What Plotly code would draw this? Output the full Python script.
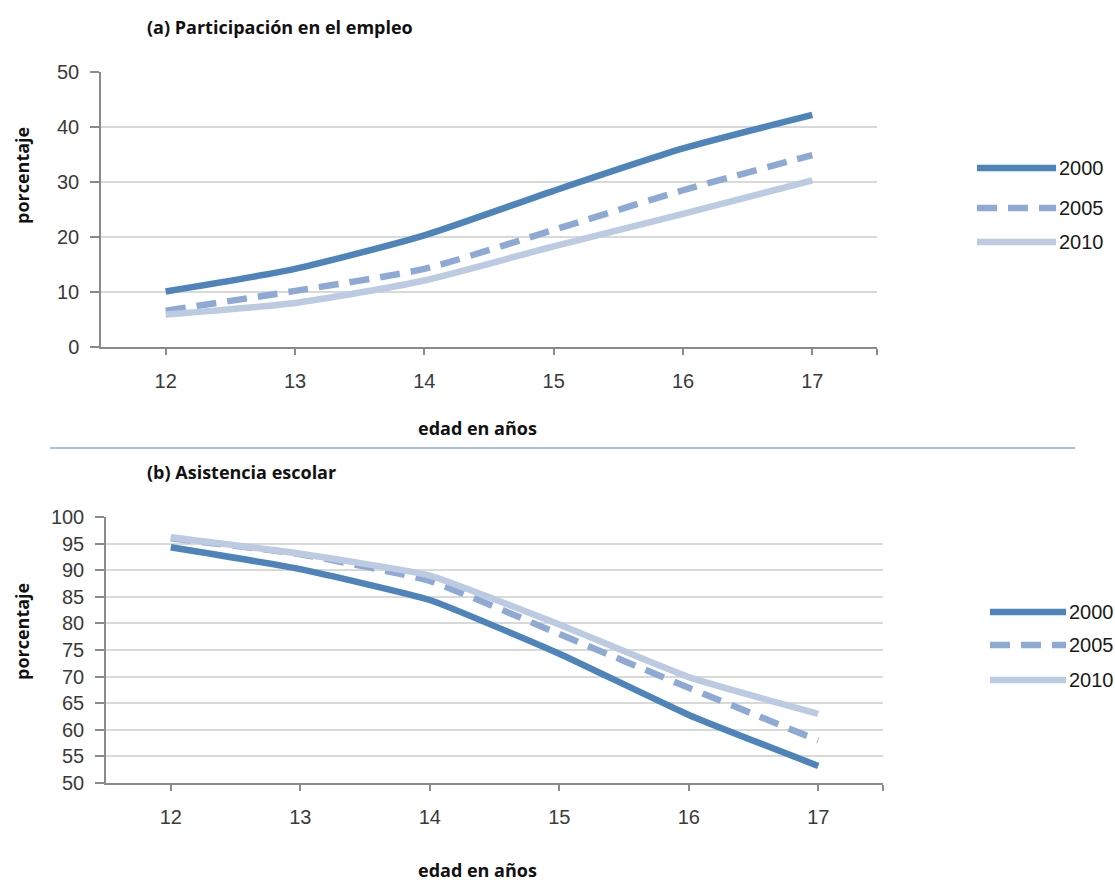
import plotly.graph_objects as go

# Edad en años (categorías del eje x)
edades = [12, 13, 14, 15, 16, 17]
anios = ["2000", "2005", "2010"]

# (a) Participación en el empleo, porcentaje
empleo_2000 = [10.1, 14.2, 20.3, 28.4, 36.1, 42.2]
empleo_2005 = [6.6, 10.2, 14.2, 21.3, 28.5, 34.9]
empleo_2010 = [5.9, 8.0, 12.1, 18.3, 24.2, 30.3]

# (b) Asistencia escolar, porcentaje
escuela_2000 = [94.3, 90.2, 84.4, 74.3, 62.8, 53.2]
escuela_2005 = [96.0, 93.0, 88.0, 78.0, 67.9, 58.0]
escuela_2010 = [96.2, 93.1, 89.0, 79.8, 69.9, 63.0]

empleo_ticks = [0, 10, 20, 30, 40, 50]
escuela_ticks = [50, 55, 60, 65, 70, 75, 80, 85, 90, 95, 100]

W, H = 1115, 883
colores = {"2000": "#4f84bb", "2005": "#8eaad4", "2010": "#bccbe1"}
guiones = {"2000": "solid", "2005": "20px,11px", "2010": "solid"}
ANCHO = 6.5

NUM_FONT = "Liberation Sans, Arial, sans-serif"
TICK_FONT = dict(family=NUM_FONT, size=20, color="#3a3a3a")
TXT_FONT = "Open Sans, Lato, sans-serif"

fig = go.Figure()

series_a = {"2000": empleo_2000, "2005": empleo_2005, "2010": empleo_2010}
series_b = {"2000": escuela_2000, "2005": escuela_2005, "2010": escuela_2010}

for a in anios:
    fig.add_trace(go.Scatter(
        x=edades, y=series_a[a], mode="lines", name=a, showlegend=False,
        line=dict(color=colores[a], width=ANCHO, dash=guiones[a], shape="spline", smoothing=0.6),
        xaxis="x", yaxis="y"))
for a in anios:
    fig.add_trace(go.Scatter(
        x=edades, y=series_b[a], mode="lines", name=a, showlegend=False,
        line=dict(color=colores[a], width=ANCHO, dash=guiones[a], shape="spline", smoothing=0.4),
        xaxis="x2", yaxis="y2"))

def px_x(v):
    return v / W

def px_y(v):
    return 1 - v / H

eje_x = dict(
    range=[11.5, 17.5], tickmode="array",
    tickvals=edades + [17.5], ticktext=[str(e) for e in edades] + [""],
    ticks="outside", ticklen=6, tickwidth=1.5, tickcolor="#8a8a8a",
    showline=True, linecolor="#8a8a8a", linewidth=1.5,
    showgrid=False, zeroline=False, tickfont=TICK_FONT, fixedrange=True,
    automargin=False, ticklabelstandoff=9,
)
eje_y = dict(
    tickmode="array", ticks="outside", ticklen=9, tickwidth=1.5, tickcolor="#8a8a8a",
    showline=True, linecolor="#8a8a8a", linewidth=1.5,
    showgrid=True, gridcolor="#d9d9d9", gridwidth=2,
    zeroline=False, tickfont=TICK_FONT, fixedrange=True,
    automargin=False, ticklabelstandoff=7,
)

fig.update_layout(
    width=W, height=H, autosize=False,
    margin=dict(l=0, r=0, t=0, b=0, pad=0, autoexpand=False),
    paper_bgcolor="white", plot_bgcolor="white",
    xaxis=dict(eje_x, domain=[px_x(101), px_x(877)], anchor="y"),
    yaxis=dict(eje_y, domain=[px_y(347), px_y(72)], anchor="x",
               range=[0, 50], tickvals=empleo_ticks),
    xaxis2=dict(eje_x, domain=[px_x(106), px_x(883)], anchor="y2"),
    yaxis2=dict(eje_y, domain=[px_y(783), px_y(517)], anchor="x2",
                range=[50, 100], tickvals=escuela_ticks),
)

anots = []
formas = []

def texto(x, y, t, size=17, bold=True, angle=0, xanchor="left", font=TXT_FONT, color="#111111"):
    anots.append(dict(
        x=px_x(x), y=px_y(y), xref="paper", yref="paper", text=f"<b>{t}</b>" if bold else t,
        showarrow=False, xanchor=xanchor, yanchor="middle", textangle=angle,
        font=dict(family=font, size=size, color=color)))

texto(145, 27, "(a) Participación en el empleo", size=18)
texto(145, 472, "(b) Asistencia escolar", size=18)
texto(477, 428, "edad en años", size=18, xanchor="center")
texto(477, 870, "edad en años", size=18, xanchor="center")
texto(22, 176, "porcentaje", size=18, angle=-90, xanchor="center")
texto(22, 632, "porcentaje", size=18, angle=-90, xanchor="center")

# Línea separadora entre paneles
formas.append(dict(type="line", xref="paper", yref="paper",
                   x0=px_x(50), x1=px_x(1075), y0=px_y(448), y1=px_y(448),
                   line=dict(color="#a9c3dc", width=2)))

# Leyendas
def leyenda(x0, x1, ys):
    for a, y in zip(anios, ys):
        formas.append(dict(type="line", xref="paper", yref="paper",
                           x0=px_x(x0), x1=px_x(x1), y0=px_y(y), y1=px_y(y),
                           line=dict(color=colores[a], width=ANCHO, dash=guiones[a])))
        anots.append(dict(x=px_x(x1 + 1), y=px_y(y), xref="paper", yref="paper", text=a,
                          showarrow=False, xanchor="left", yanchor="middle",
                          font=dict(family=NUM_FONT, size=20, color="#1a1a1a")))

leyenda(977, 1056, [168, 208, 242])
leyenda(990, 1066, [612, 645, 680])

fig.update_layout(annotations=anots, shapes=formas)

fig.write_html("out.html")
